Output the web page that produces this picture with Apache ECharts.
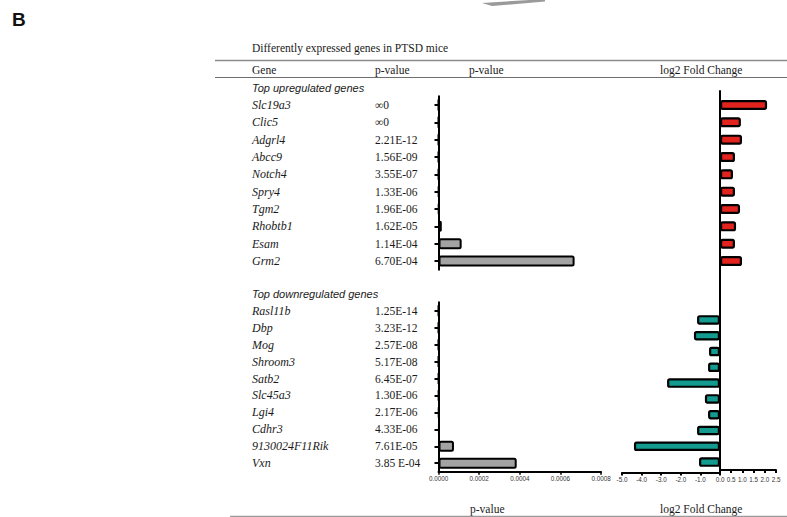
<!DOCTYPE html>
<html>
<head>
<meta charset="utf-8">
<script src="https://cdn.jsdelivr.net/npm/echarts@6/dist/echarts.min.js"></script>
<style>html,body{margin:0;padding:0;background:#fff}#c{width:787px;height:517px}</style>
</head>
<body>
<div id="c"></div>
<script>
// ---- data ----
var upGenes = ['Slc19a3','Clic5','Adgrl4','Abcc9','Notch4','Spry4','Tgm2','Rhobtb1','Esam','Grm2'];
var upPText = ['\u221E0','\u221E0','2.21E-12','1.56E-09','3.55E-07','1.33E-06','1.96E-06','1.62E-05','1.14E-04','6.70E-04'];
var upP = [0, 0, 2.21e-12, 1.56e-9, 3.55e-7, 1.33e-6, 1.96e-6, 1.62e-5, 1.14e-4, 6.70e-4];
var upFC = [2.14, 0.95, 1.0, 0.68, 0.59, 0.68, 0.91, 0.73, 0.68, 1.0];
var downGenes = ['Rasl11b','Dbp','Mog','Shroom3','Satb2','Slc45a3','Lgi4','Cdhr3','9130024F11Rik','Vxn'];
var downPText = ['1.25E-14','3.23E-12','2.57E-08','5.17E-08','6.45E-07','1.30E-06','2.17E-06','4.33E-06','7.61E-05','3.85 E-04'];
var downP = [1.25e-14, 3.23e-12, 2.57e-8, 5.17e-8, 6.45e-7, 1.30e-6, 2.17e-6, 4.33e-6, 7.61e-5, 3.85e-4];
var downFC = [-1.17, -1.33, -0.56, -0.61, -2.70, -0.77, -0.61, -1.17, -4.39, -1.07];
var pTicks = {min: 0, max: 0.0008, interval: 0.0002};
var fcNegTicks = {min: -5, max: 0, interval: 1};
var fcPosTicks = {min: 0, max: 2.5, interval: 0.5};

// ---- styles ----
var serifQ = '"Liberation Serif"';
var sans = 'Liberation Sans';
var txt = '#1a1a1a';
var axLine = {show: true, lineStyle: {color: '#000', width: 2}};
var noAx = {show: false};

function catAxisGenes(grid, data, margin) {
  return {
    type: 'category', gridIndex: grid, data: data, inverse: true, position: 'left',
    axisLine: axLine,
    axisTick: {show: true, alignWithLabel: true, length: 4, lineStyle: {color: '#000', width: 2}},
    axisLabel: {show: true, margin: margin, align: 'left', fontFamily: serifQ, fontStyle: 'italic', fontWeight: 400, fontSize: 12, color: txt},
    splitLine: noAx
  };
}
function catAxisText(grid, data, margin) {
  return {
    type: 'category', gridIndex: grid, data: data, inverse: true, position: 'left',
    axisLine: noAx, axisTick: noAx,
    axisLabel: {show: true, margin: margin, align: 'left', fontFamily: serifQ, fontWeight: 400, fontSize: 11.5, color: txt},
    splitLine: noAx
  };
}
function hiddenCat(grid, data) {
  return {type: 'category', gridIndex: grid, data: data, inverse: true, show: false};
}
function tickLabel(fmt) {
  return {show: true, fontFamily: sans, fontSize: 6.3, color: '#333', margin: 4, formatter: fmt};
}

var chart = echarts.init(document.getElementById('c'), null, {renderer: 'svg'});
chart.setOption({
  animation: false,
  backgroundColor: '#fff',
  grid: [
    {left: 438.5, top: 96.3, width: 162.5, height: 173.4},
    {left: 438.5, top: 302.3, width: 162.5, height: 169.4},
    {left: 720, top: 96.3, width: 55, height: 173.4},
    {left: 622, top: 312, width: 98, height: 158},
    {left: 720, top: 312, width: 56, height: 158},
    {left: 720, top: 91, width: 10, height: 381.5}
  ],
  xAxis: [
    {type: 'value', gridIndex: 0, min: pTicks.min, max: pTicks.max, show: false},
    {type: 'value', gridIndex: 1, min: pTicks.min, max: pTicks.max, interval: pTicks.interval,
      axisLine: axLine, axisTick: {show: true, length: 3, lineStyle: {color: '#000', width: 1.5}},
      axisLabel: tickLabel(function (v) { return v.toFixed(4); }), splitLine: noAx},
    {type: 'value', gridIndex: 2, min: fcPosTicks.min, max: fcPosTicks.max, show: false},
    {type: 'value', gridIndex: 3, min: fcNegTicks.min, max: fcNegTicks.max, interval: fcNegTicks.interval, offset: 2.5,
      axisLine: axLine, axisTick: {show: true, length: 3, lineStyle: {color: '#000', width: 2}},
      axisLabel: tickLabel(function (v) { return v === 0 ? '' : v.toFixed(1); }), splitLine: noAx},
    {type: 'value', gridIndex: 4, min: fcPosTicks.min, max: fcPosTicks.max, interval: fcPosTicks.interval, offset: 2.5,
      axisLine: axLine, axisTick: {show: true, length: 3, lineStyle: {color: '#000', width: 2}},
      axisLabel: tickLabel(function (v) { return v.toFixed(1); }), splitLine: noAx},
    {type: 'value', gridIndex: 5, min: 0, max: 1, show: false}
  ],
  yAxis: [
    catAxisGenes(0, upGenes, 186.5),
    catAxisText(0, upPText, 63.5),
    catAxisGenes(1, downGenes, 186.5),
    catAxisText(1, downPText, 63.5),
    hiddenCat(2, upGenes),
    hiddenCat(3, downGenes),
    {type: 'value', gridIndex: 4, min: 0, max: 1, show: false},
    {type: 'value', gridIndex: 5, min: 0, max: 1, axisLine: axLine, axisTick: noAx, axisLabel: {show: false}, splitLine: noAx}
  ],
  series: [
    {type: 'bar', name: 'p up', xAxisIndex: 0, yAxisIndex: 0, data: upP, barWidth: 11,
      itemStyle: {color: '#a3a3a3', borderColor: '#000', borderWidth: 2, borderRadius: 1.5}},
    {type: 'bar', name: 'p down', xAxisIndex: 1, yAxisIndex: 2, data: downP, barWidth: 11,
      itemStyle: {color: '#a3a3a3', borderColor: '#000', borderWidth: 2, borderRadius: 1.5}},
    {type: 'bar', name: 'fc up', xAxisIndex: 2, yAxisIndex: 4, data: upFC, barWidth: 10,
      itemStyle: {color: '#e3231e', borderColor: '#000', borderWidth: 2.2, borderRadius: 1.5}},
    {type: 'bar', name: 'fc down', xAxisIndex: 3, yAxisIndex: 5, data: downFC, barWidth: 9.5,
      itemStyle: {color: '#139b90', borderColor: '#000', borderWidth: 2.2, borderRadius: 1.5}}
  ],
  graphic: [
    {type: 'text', x: 12, y: 19, style: {text: 'B', font: 'bold 19px "Liberation Sans"', fill: '#111', verticalAlign: 'middle'}},
    {type: 'polygon', shape: {points: [[482, 3], [545, -1], [545, 1.5], [492, 6]]}, style: {fill: '#9a9a9a'}},
    {type: 'text', x: 252, y: 48, style: {text: 'Differently expressed genes in PTSD mice', font: '11.5px "Liberation Serif"', fill: txt, verticalAlign: 'middle'}},
    {type: 'line', shape: {x1: 215, y1: 60.5, x2: 787, y2: 60.5}, style: {stroke: '#8c8c8c', lineWidth: 1.3}},
    {type: 'text', x: 252, y: 70, style: {text: 'Gene', font: '11.5px "Liberation Serif"', fill: txt, verticalAlign: 'middle'}},
    {type: 'text', x: 375, y: 70, style: {text: 'p-value', font: '11.5px "Liberation Serif"', fill: txt, verticalAlign: 'middle'}},
    {type: 'text', x: 469, y: 70, style: {text: 'p-value', font: '11.5px "Liberation Serif"', fill: txt, verticalAlign: 'middle'}},
    {type: 'text', x: 660, y: 70, style: {text: 'log2 Fold Change', font: '11.5px "Liberation Serif"', fill: txt, verticalAlign: 'middle'}},
    {type: 'line', shape: {x1: 215, y1: 77.5, x2: 787, y2: 77.5}, style: {stroke: '#6e6e6e', lineWidth: 1.2}},
    {type: 'text', x: 252, y: 87.5, style: {text: 'Top upregulated genes', font: 'italic 11px "Liberation Sans"', fill: txt, verticalAlign: 'middle'}},
    {type: 'text', x: 252, y: 293.5, style: {text: 'Top downregulated genes', font: 'italic 11px "Liberation Sans"', fill: txt, verticalAlign: 'middle'}},
    {type: 'text', x: 470, y: 509, style: {text: 'p-value', font: '11.5px "Liberation Serif"', fill: txt, verticalAlign: 'middle'}},
    {type: 'text', x: 660, y: 509, style: {text: 'log2 Fold Change', font: '11.5px "Liberation Serif"', fill: txt, verticalAlign: 'middle'}},
    {type: 'line', shape: {x1: 230, y1: 516.5, x2: 787, y2: 516.5}, style: {stroke: '#9a9a9a', lineWidth: 1.3}}
  ]
});
</script>
</body>
</html>
